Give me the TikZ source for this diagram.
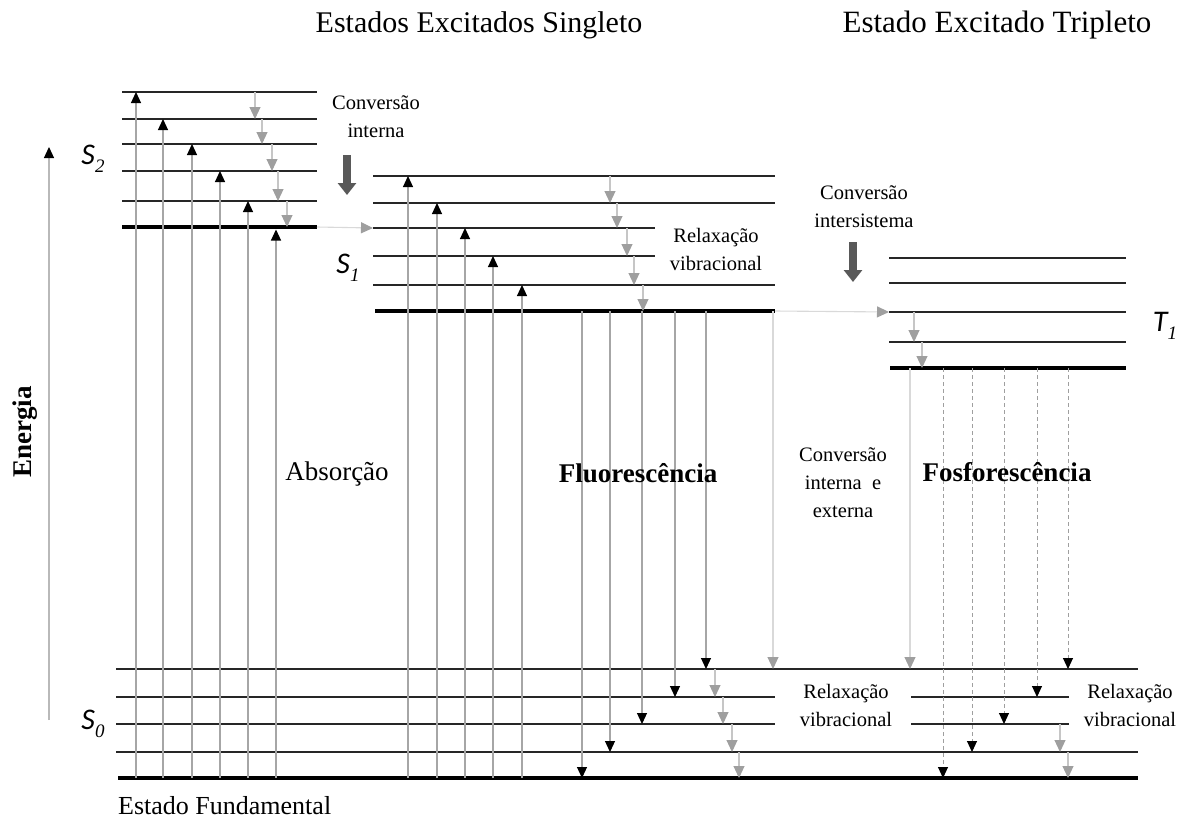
\documentclass[tikz,border=0pt]{standalone}
\usepackage{fontspec}
\setmainfont{Liberation Serif}
\newfontfamily\statefont{Carlito}
\usetikzlibrary{arrows.meta}

% label of an electronic state, e.g. S with index 2
\newcommand{\statelabel}[2]{{\statefont\itshape #1}\raisebox{-8pt}{\fontsize{19}{19}\selectfont\rmfamily\itshape #2}}

\begin{document}
\begin{tikzpicture}[x=1pt,y=-1pt,
        level/.style={line width=1.4pt,black!85},
        groundlevel/.style={line width=4.5pt,black},
        absorb/.style={draw=gray!70,line width=1.1pt,-{Triangle[width=10pt,length=11pt,black]}},
        relax/.style={draw=gray!45,line width=1.1pt,-{Triangle[width=11pt,length=12pt,gray!75]}},
        phos/.style={draw=gray!75,line width=1pt,dash pattern=on 4pt off 3pt,-{Triangle[width=10pt,length=11pt,black]}},
        cross/.style={draw=gray!30,line width=1.1pt,-{Triangle[width=11pt,length=12pt,gray!75]}},
        bigarrow/.style={draw=black!65,line width=8pt,-{Triangle[width=18pt,length=12pt]}},
        txt/.style={font=\rmfamily\fontsize{20.5}{28}\selectfont,align=center,inner sep=0pt},
        bigtxt/.style={font=\rmfamily\fontsize{27}{30}\selectfont,inner sep=0pt},
        statetxt/.style={font=\fontsize{30}{30}\selectfont,inner sep=0pt}]

    \useasboundingbox (0,0) rectangle (1186,825);

    % Titles
    \node[font=\rmfamily\fontsize{30}{30}\selectfont] (singtitle) at (479,25) {Estados Excitados Singleto};
    \node[font=\rmfamily\fontsize{31}{31}\selectfont] (triptitle) at (997,25) {Estado Excitado Tripleto};

    % Energy axis
    \draw[draw=gray!55,line width=1.1pt,-{Triangle[width=10pt,length=11pt,black]}] (49,720) -- (49,147);
    \node[bigtxt,rotate=90] (energy) at (25,432) {\bfseries Energia};

    % Singlet S2
    \foreach \y in {92,119,144,171,201} {
            \draw[level] (122,\y) -- (317,\y);
        }
    \draw[groundlevel] (122,227) -- (317,227);
    \node[statetxt] (s2) at (93,159) {\statelabel{S}{2}};

    % Singlet S1
    \foreach \y in {176,203,285} {
            \draw[level] (373,\y) -- (775,\y);
        }
    \foreach \y in {228,256} {
            \draw[level] (373,\y) -- (655,\y);
        }
    \draw[groundlevel] (375,311) -- (775,311);
    \node[statetxt] (s1) at (348,268) {\statelabel{S}{1}};

    % Triplet T1
    \foreach \y in {258,283,312,342} {
            \draw[level] (889,\y) -- (1126,\y);
        }
    \draw[groundlevel] (890,368) -- (1126,368);
    \node[statetxt] (t1) at (1165,326) {\statelabel{T}{1}};

    % Ground state S0
    \foreach \y in {669,752} {
            \draw[level] (116,\y) -- (1138,\y);
        }
    \foreach \y in {697,724} {
            \draw[level] (116,\y) -- (775,\y);
            \draw[level] (911,\y) -- (1069,\y);
        }
    \draw[groundlevel] (118,778) -- (1138,778);
    \node[statetxt] (s0) at (93,724) {\statelabel{S}{0}};

    % Absorption
    \foreach \x/\y in {136/92,163/119,192/144,220/171,248/201,276/229.5} {
            \draw[absorb] (\x,778) -- (\x,\y);
        }
    \foreach \x/\y in {408/176,437/203,465/228,493/256,522/285} {
            \draw[absorb] (\x,778) -- (\x,\y);
        }

    % Vibrational relaxation
    \foreach \x/\a/\b in {255/92/119,262/119/144,272/144/171,278/171/201,287/201/227} {
            \draw[relax] (\x,\a) -- (\x,\b);
        }
    \foreach \x/\a/\b in {610/176/203,617/203/228,627/228/256,634/256/285,643/285/311} {
            \draw[relax] (\x,\a) -- (\x,\b);
        }
    \foreach \x/\a/\b in {914/312/342,922/342/368} {
            \draw[relax] (\x,\a) -- (\x,\b);
        }
    \foreach \x/\a/\b in {715/669/697,723/697/724,732/724/752,739/752/778,1060/724/752,1068/752/778} {
            \draw[relax] (\x,\a) -- (\x,\b);
        }

    % Internal conversion and intersystem crossing
    \draw[cross] (317,227) -- (373,228);
    \draw[cross] (775,311) -- (889,312);
    \draw[bigarrow] (347,155) -- (347,195);
    \draw[bigarrow] (853,242) -- (853,282);
    \draw[cross] (773,311) -- (773,669);
    \draw[cross] (910,368) -- (910,669);

    % Fluorescence
    \foreach \x/\y in {582/778,610/752,642/724,675/697,706/669} {
            \draw[absorb] (\x,311) -- (\x,\y);
        }

    % Phosphorescence
    \foreach \x/\y in {943/778,972/752,1004/724,1037/697,1068/669} {
            \draw[phos] (\x,368) -- (\x,\y);
        }

    % Labels
    \node[txt] (convint) at (376,117) {Conversão\\interna};
    \node[txt] (relaxs1) at (716,249) {Relaxação\\vibracional};
    \node[txt] (convisc) at (864,207) {Conversão\\intersistema};
    \node[bigtxt] (absorption) at (337,474) {Absorção};
    \node[bigtxt] (fluor) at (638,473) {\bfseries Fluorescência};
    \node[txt] (convext) at (843,483) {Conversão\\interna\enspace e\\externa};
    \node[bigtxt] (phosph) at (1007,472) {\bfseries Fosforescência};
    \node[txt,fill=white,inner sep=2pt] (relaxs0) at (846,705) {Relaxação\\vibracional};
    \node[txt] (relaxt1) at (1130,705) {Relaxação\\vibracional};
    \node[font=\rmfamily\fontsize{26}{26}\selectfont,inner sep=0pt,anchor=west] (fundamental) at (118,806) {Estado Fundamental};
\end{tikzpicture}
\end{document}
